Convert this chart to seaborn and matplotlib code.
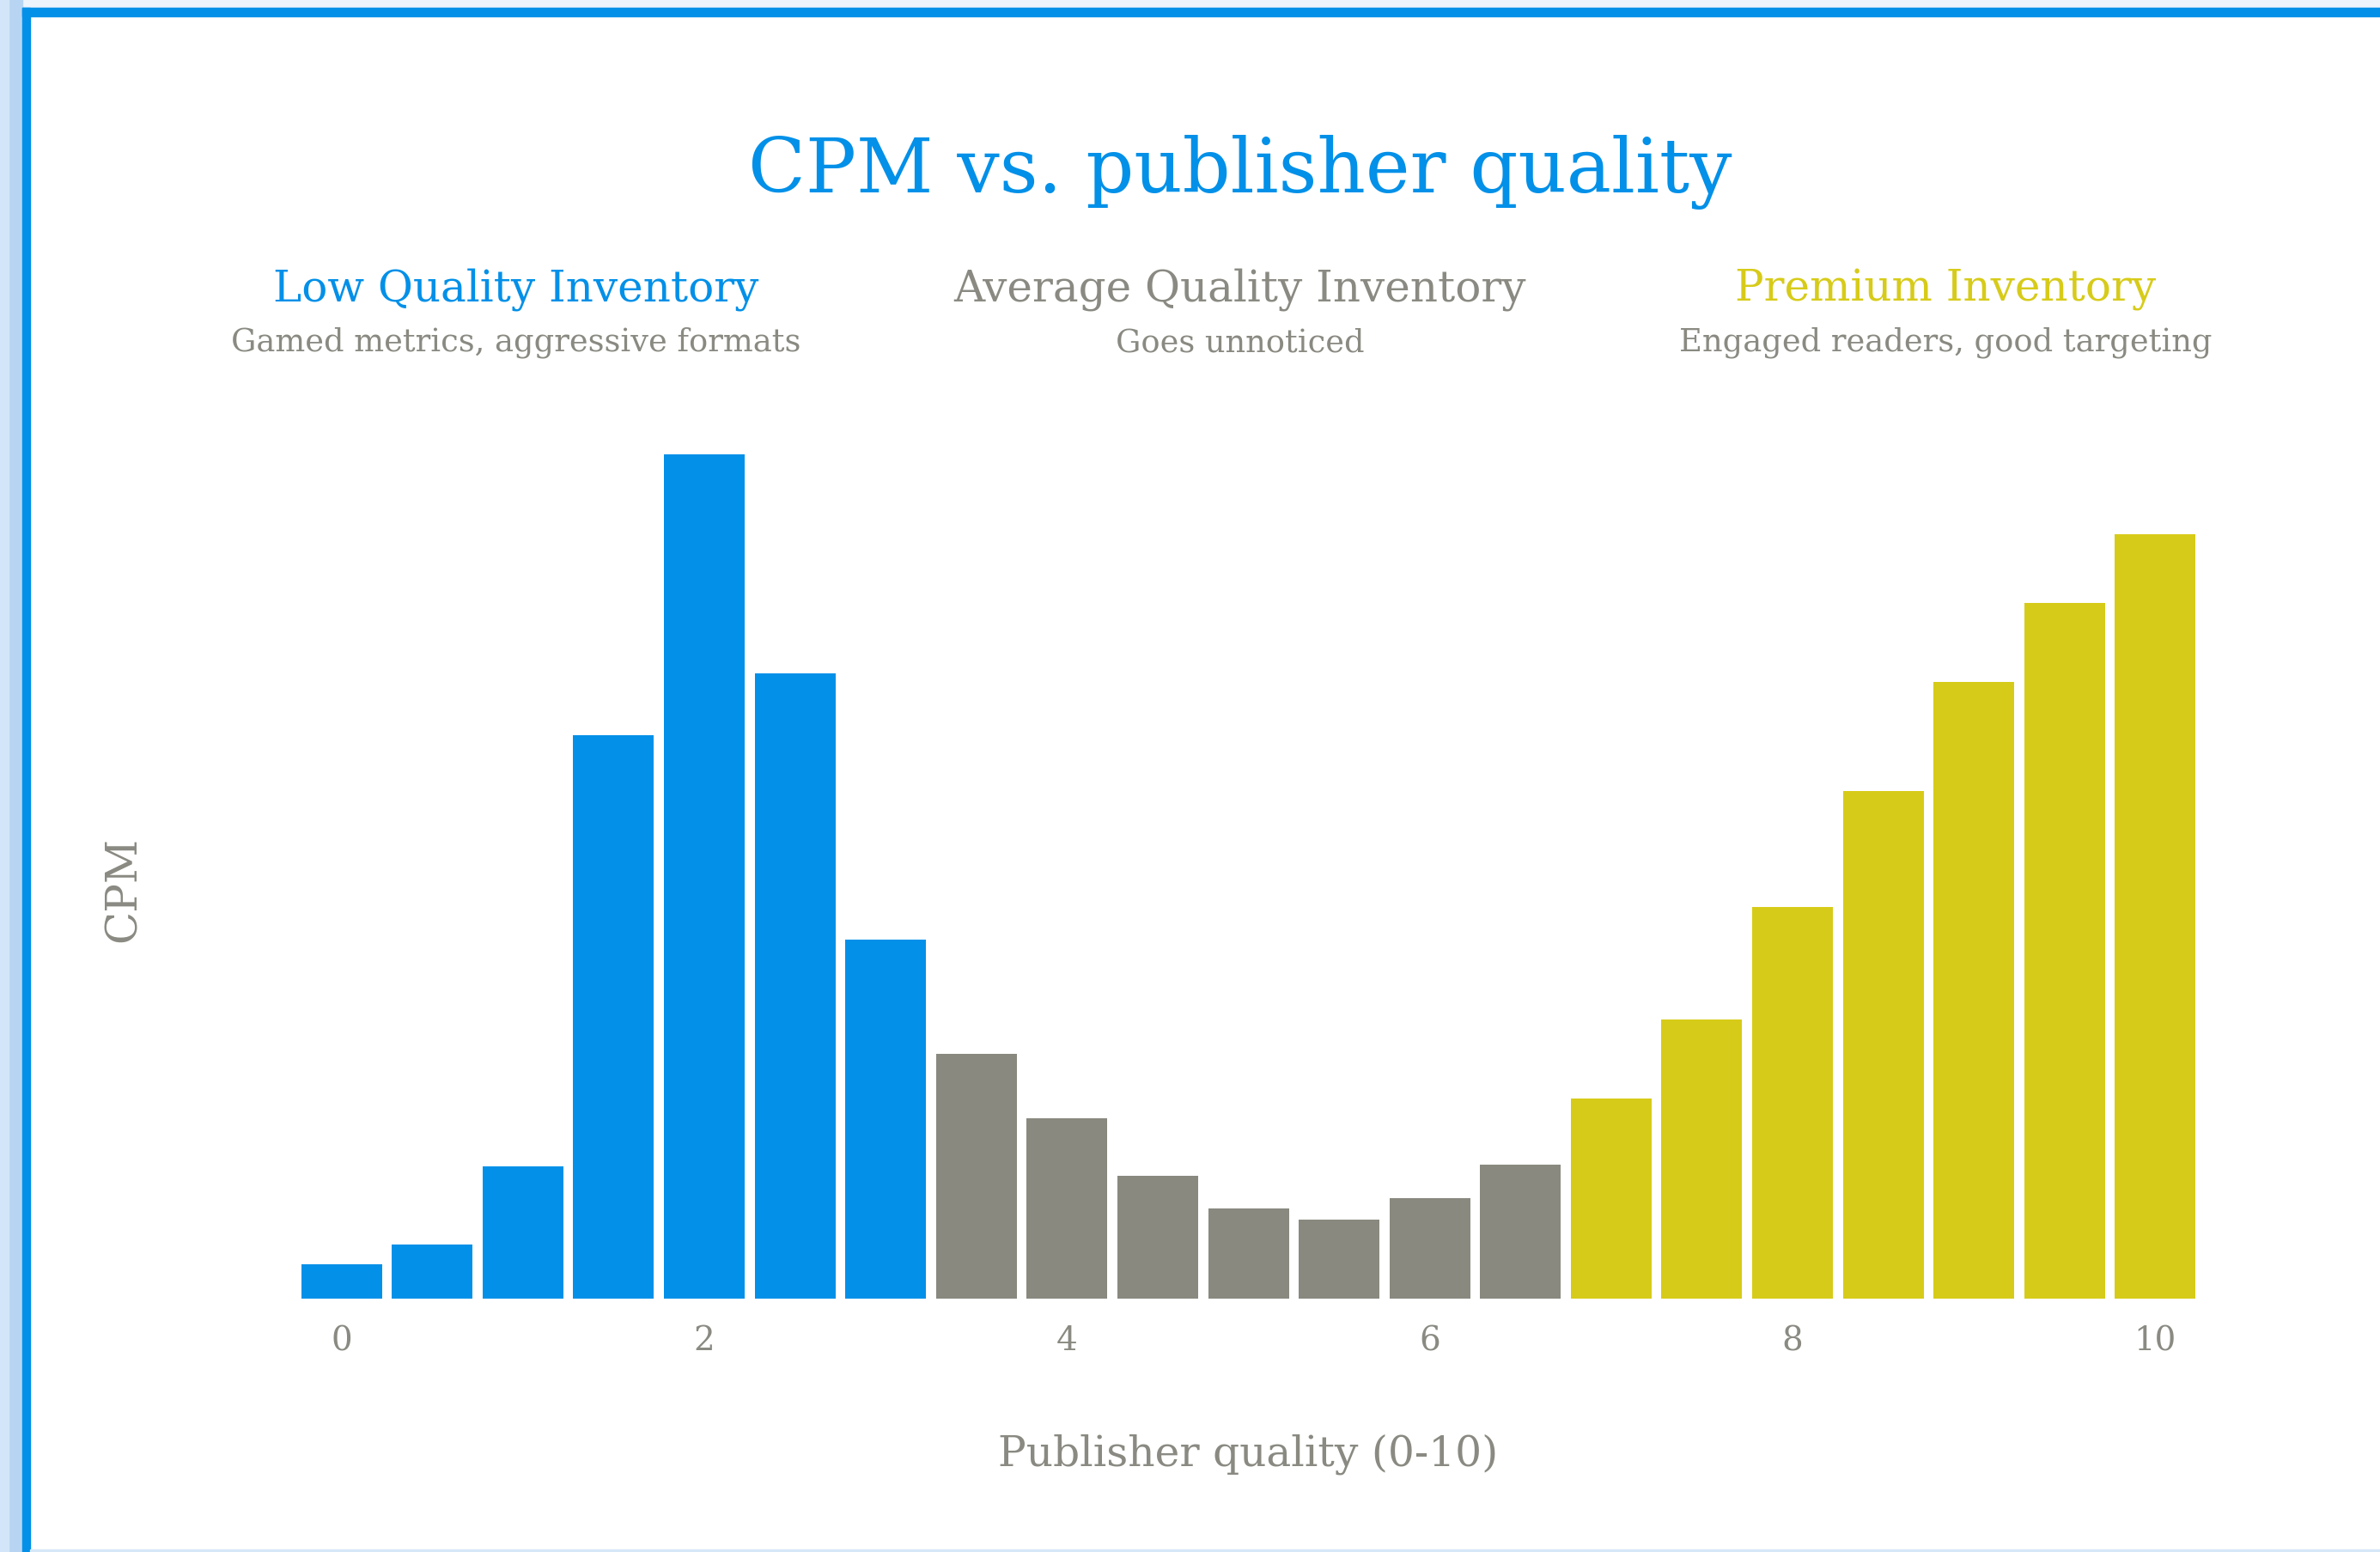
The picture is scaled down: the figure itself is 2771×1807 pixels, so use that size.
import pandas as pd
import seaborn as sns
import matplotlib.pyplot as plt
from matplotlib.patches import Rectangle

# Data (CPM in arbitrary units, no y ticks shown)
quality = [0, 0.5, 1, 1.5, 2, 2.5, 3, 3.5, 4, 4.5, 5, 5.5, 6, 6.5, 7,
           7.5, 8, 8.5, 9, 9.5, 10]
cpm = [0.45, 0.71, 1.74, 7.42, 11.12, 8.24, 4.73, 3.22, 2.37, 1.61, 1.18,
       1.04, 1.32, 1.76, 2.63, 3.67, 5.16, 6.68, 8.12, 9.16, 10.07]
tier = ["low"] * 7 + ["average"] * 7 + ["premium"] * 7

tier_names = ["Low Quality Inventory", "Average Quality Inventory", "Premium Inventory"]
tier_notes = ["Gamed metrics, aggressive formats", "Goes unnoticed",
              "Engaged readers, good targeting"]
x_ticks = [0, 2, 4, 6, 8, 10]

BLUE = "#0290E8"
GREY = "#89897F"
YELLOW = "#D7CB19"
TEXT_GREY = "#8A8A82"
palette = {"low": BLUE, "average": GREY, "premium": YELLOW}

sns.set_theme(style="white")
plt.rcParams['font.family'] = ['DejaVu Serif']

W, H = 2771, 1808
fig = plt.figure(figsize=(W / 100, H / 100), dpi=100)
fig.patch.set_facecolor("white")

# screenshot-like frame: pale strip on top, shadow on left, blue border
fig.patches.append(Rectangle((0, 1 - 10 / H), 1, 10 / H, transform=fig.transFigure,
                             color="#EEF4FB", zorder=0))
fig.patches.append(Rectangle((0, 0), 26 / W, 1, transform=fig.transFigure,
                             color="#B7D5F3", zorder=0))
fig.patches.append(Rectangle((0, 0), 10 / W, 1, transform=fig.transFigure,
                             color="#D3E6F9", zorder=0))
fig.patches.append(Rectangle((26 / W, 1 - 20 / H), 1, 10 / H, transform=fig.transFigure,
                             color=BLUE, zorder=1))
fig.patches.append(Rectangle((26 / W, 0), 9 / W, 1 - 10 / H, transform=fig.transFigure,
                             color=BLUE, zorder=1))
fig.patches.append(Rectangle((35 / W, 0), 1, 3 / H, transform=fig.transFigure,
                             color="#D6E7F8", zorder=1))

ax = fig.add_axes([0.1054, 0.1634, 0.8383, 0.5864])
df = pd.DataFrame({"quality": quality, "cpm": cpm, "tier": tier})
sns.barplot(data=df, x="quality", y="cpm", hue="tier", palette=palette,
            native_scale=True, dodge=False, width=0.89, linewidth=0,
            saturation=1, legend=False, ax=ax)

ax.set_xlim(-0.5, 10.5)
ax.set_ylim(0, 12)
ax.set_xticks(x_ticks)
ax.set_xticklabels([str(t) for t in x_ticks])
ax.set_yticks([])
ax.tick_params(axis="x", length=0, pad=22, labelsize=28, labelcolor=TEXT_GREY)
sns.despine(ax=ax, left=True, bottom=True)
ax.set_facecolor("none")

ax.set_xlabel("Publisher quality (0-10)", fontsize=35, color=TEXT_GREY)
ax.xaxis.set_label_coords(0.5, -0.148)
ax.set_ylabel("CPM", fontsize=36, color=TEXT_GREY)
ax.yaxis.set_label_coords(-0.053, 0.45)

fig.text(0.521, 0.889, "CPM vs. publisher quality", ha="center", va="center",
         fontsize=63, color=BLUE)

head_x = [601 / W, 1444 / W, 2265 / W]
head_colors = [BLUE, TEXT_GREY, YELLOW]
for x, name, note, c in zip(head_x, tier_names, tier_notes, head_colors):
    fig.text(x, 1 - 337 / H, name, ha="center", va="center", fontsize=36, color=c)
    fig.text(x, 1 - 399 / H, note, ha="center", va="center", fontsize=26.5, color=TEXT_GREY)

fig.savefig("out.png", dpi=100)
